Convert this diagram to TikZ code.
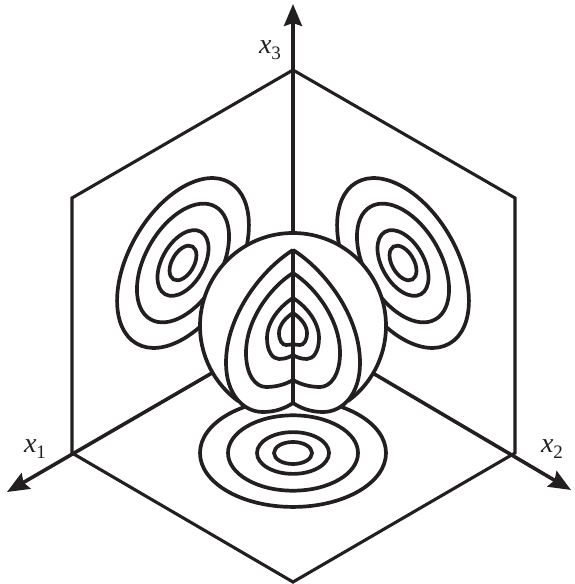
\documentclass[tikz,border=0pt]{standalone}
\usepackage{fix-cm}
\usepackage{xcolor}
\usepackage{fontspec}
\setmainfont{Liberation Serif}
\usetikzlibrary{arrows.meta}
\definecolor{RingBlack}{RGB}{35, 31, 32}
\newcommand{\axisname}[1]{\textit{x}\raisebox{-6pt}{\fontsize{19}{20}\selectfont #1}}
\tikzset{
  wall/.style={RingBlack, line width=3.1pt, line join=miter},
  axisline/.style={RingBlack, line width=3.6pt, -{Stealth[length=22pt, width=18pt, inset=3pt]}},
  ring/.style={RingBlack, line width=3.7pt},
  axislabel/.style={RingBlack, font=\fontsize{28}{30}\selectfont, inner sep=0pt}
}

\begin{document}
\begin{tikzpicture}[x=1pt,y=1pt]
  \path[use as bounding box] (0,0) rectangle (574,584);
  \fill[white] (0,0) rectangle (574,584);
  % corners of the three walls
  \coordinate (origin) at (293,258);
  \coordinate (top) at (293,514);
  \coordinate (upleft) at (72,386);
  \coordinate (lowleft) at (72,131);
  \coordinate (bottom) at (293,2);
  \coordinate (lowright) at (515,131);
  \coordinate (upright) at (515,386);
  \coordinate (tipone) at (7,92);
  \coordinate (tiptwo) at (571,94);
  \coordinate (tipthree) at (293,580);
  \draw[wall] (top) -- (upleft) -- (lowleft) -- (bottom) -- (lowright) -- (upright) -- cycle;
  \draw[axisline] (origin) -- (tipone);
  \draw[axisline] (origin) -- (tiptwo);
  \draw[axisline] (origin) -- (tipthree);
  \node[axislabel] (labelone) at (35,135) {\axisname{1}};
  \node[axislabel] (labeltwo) at (552,135) {\axisname{2}};
  \node[axislabel] (labelthree) at (270,534) {\axisname{3}};
  % projected contours on the walls
  \foreach \cx/\cy/\ang in {293/131/0, 183/321/60, 403/321/-60} {
    \foreach \rr in {93,65,36,19} {
      \draw[ring] (\cx,\cy) circle[x radius=\rr, y radius=0.58*\rr, rotate=\ang];
    }
  }
  % sphere, open at the bottom where the outer contour closes it
  \fill[white] (293,258) ++(-54:93) arc[start angle=-54, end angle=234, radius=93] -- (293,181) -- cycle;
  \draw[ring] (293,258) ++(-54:93) arc[start angle=-54, end angle=234, radius=93];
  % contours on the sphere, right half then left half
  \foreach \sgn in {1,-1} {
    \begin{scope}[shift={(293,0)}, xscale=\sgn]
      \foreach \tp/\mx/\my/\bx/\by/\cy in {334/67/221/30/172/181, 311/47/231/27/197/204, 286/26/246/14/225/229, 271/14/251/7/239/240} {
        \draw[ring, fill=white] (0,\tp)
          .. controls ({0.45*\mx},{\tp-0.28*\mx}) and (\mx,{\my+0.43*(\tp-\my)}) .. (\mx,\my)
          .. controls (\mx,{\my-0.63*(\my-\by)}) and ({\bx+0.54*(\mx-\bx)},\by) .. (\bx,\by)
          .. controls ({0.6*\bx},\by) and ({0.27*\bx},{\cy-0.6*(\cy-\by)}) .. (0,\cy);
      }
    \end{scope}
  }
  \draw[RingBlack, line width=4.4pt] (293,335) -- (293,180);
\end{tikzpicture}
\end{document}
